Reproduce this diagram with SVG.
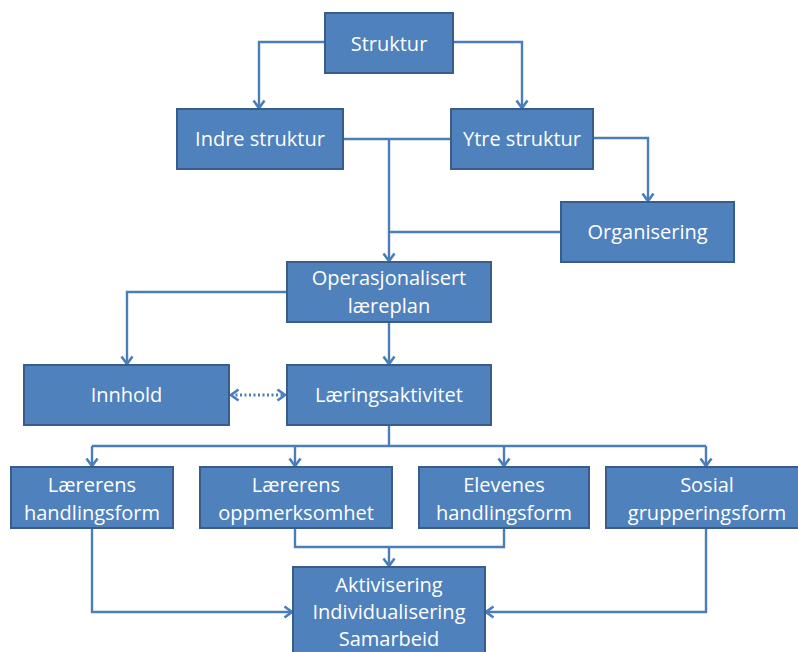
<svg xmlns="http://www.w3.org/2000/svg" width="798" height="652" viewBox="0 0 798 652">
  <defs>
    <marker id="arr" viewBox="0 0 14 14" refX="11.5" refY="7" markerWidth="14" markerHeight="14" markerUnits="userSpaceOnUse" orient="auto-start-reverse">
      <polyline points="4,1.5 11.5,7 4,12.5" fill="none" stroke="#4A7EBB" stroke-width="2.6" stroke-linejoin="miter"/>
    </marker>
    <style>
      .box { fill: #4F81BD; stroke: #385D8A; stroke-width: 2; }
      .lbl { fill: #FFFFFF; font-family: "Open Sans", "Noto Sans", sans-serif; font-size: 20px; text-anchor: middle; }
      .ln { fill: none; stroke: #4A7EBB; stroke-width: 2.4; }
      .dot { fill: none; stroke: #4A7EBB; stroke-width: 2.8; stroke-dasharray: 2 2.5; }
    </style>
  </defs>
  <rect width="798" height="652" fill="#FFFFFF"/>

  <g id="connectors">
    <!-- Struktur to its two children -->
    <polyline class="ln" points="325,42 259,42 259,108" marker-end="url(#arr)"/>
    <polyline class="ln" points="453,42 522,42 522,108" marker-end="url(#arr)"/>
    <!-- Indre/Ytre merge into the plan -->
    <line class="ln" x1="343" y1="139" x2="451" y2="139"/>
    <line class="ln" x1="389" y1="139" x2="389" y2="261" marker-end="url(#arr)"/>
    <line class="ln" x1="389" y1="232" x2="561" y2="232"/>
    <!-- Ytre to Organisering -->
    <polyline class="ln" points="593,138 648,138 648,201" marker-end="url(#arr)"/>
    <!-- plan to Innhold and Læringsaktivitet -->
    <polyline class="ln" points="287,292 127,292 127,364" marker-end="url(#arr)"/>
    <line class="ln" x1="389" y1="322" x2="389" y2="364" marker-end="url(#arr)"/>
    <!-- dotted two-way link -->
    <line class="dot" x1="231" y1="395" x2="285" y2="395" marker-start="url(#arr)" marker-end="url(#arr)"/>
    <!-- Læringsaktivitet fan-out -->
    <line class="ln" x1="389" y1="425" x2="389" y2="446"/>
    <line class="ln" x1="92" y1="446" x2="706" y2="446"/>
    <line class="ln" x1="92" y1="446" x2="92" y2="466" marker-end="url(#arr)"/>
    <line class="ln" x1="295" y1="446" x2="295" y2="466" marker-end="url(#arr)"/>
    <line class="ln" x1="504" y1="446" x2="504" y2="466" marker-end="url(#arr)"/>
    <line class="ln" x1="706" y1="446" x2="706" y2="466" marker-end="url(#arr)"/>
    <!-- fan-in to the bottom node -->
    <polyline class="ln" points="295,528 295,547 504,547 504,528"/>
    <line class="ln" x1="389" y1="547" x2="389" y2="566" marker-end="url(#arr)"/>
    <polyline class="ln" points="92,528 92,612 292,612" marker-end="url(#arr)"/>
    <polyline class="ln" points="706,528 706,612 486,612" marker-end="url(#arr)"/>
  </g>

  <g id="struktur">
    <rect class="box" x="325" y="13" width="128" height="60"/>
    <text class="lbl" x="389" y="51">Struktur</text>
  </g>
  <g id="indre-struktur">
    <rect class="box" x="177" y="109" width="166" height="60"/>
    <text class="lbl" x="260" y="146">Indre struktur</text>
  </g>
  <g id="ytre-struktur">
    <rect class="box" x="451" y="109" width="142" height="60"/>
    <text class="lbl" x="522" y="146">Ytre struktur</text>
  </g>
  <g id="organisering">
    <rect class="box" x="561" y="202" width="173" height="60"/>
    <text class="lbl" x="647.5" y="239">Organisering</text>
  </g>
  <g id="operasjonalisert-laereplan">
    <rect class="box" x="287" y="262" width="204" height="60"/>
    <text class="lbl" x="389" y="285">Operasjonalisert</text>
    <text class="lbl" x="389" y="313">læreplan</text>
  </g>
  <g id="innhold">
    <rect class="box" x="24" y="365" width="205" height="60"/>
    <text class="lbl" x="126.5" y="402">Innhold</text>
  </g>
  <g id="laeringsaktivitet">
    <rect class="box" x="287" y="365" width="204" height="60"/>
    <text class="lbl" x="389" y="402">Læringsaktivitet</text>
  </g>
  <g id="laererens-handlingsform">
    <rect class="box" x="11" y="467" width="162" height="61"/>
    <text class="lbl" x="92" y="492">Lærerens</text>
    <text class="lbl" x="92" y="520">handlingsform</text>
  </g>
  <g id="laererens-oppmerksomhet">
    <rect class="box" x="200" y="467" width="192" height="61"/>
    <text class="lbl" x="296" y="492">Lærerens</text>
    <text class="lbl" x="296" y="520">oppmerksomhet</text>
  </g>
  <g id="elevenes-handlingsform">
    <rect class="box" x="419" y="467" width="170" height="61"/>
    <text class="lbl" x="504" y="492">Elevenes</text>
    <text class="lbl" x="504" y="520">handlingsform</text>
  </g>
  <g id="sosial-grupperingsform">
    <rect class="box" x="606" y="467" width="202" height="61"/>
    <text class="lbl" x="707" y="492">Sosial</text>
    <text class="lbl" x="707" y="520">grupperingsform</text>
  </g>
  <g id="aktivisering">
    <rect class="box" x="293" y="567" width="192" height="100"/>
    <text class="lbl" x="389" y="592">Aktivisering</text>
    <text class="lbl" x="389" y="619">Individualisering</text>
    <text class="lbl" x="389" y="646">Samarbeid</text>
  </g>
</svg>
